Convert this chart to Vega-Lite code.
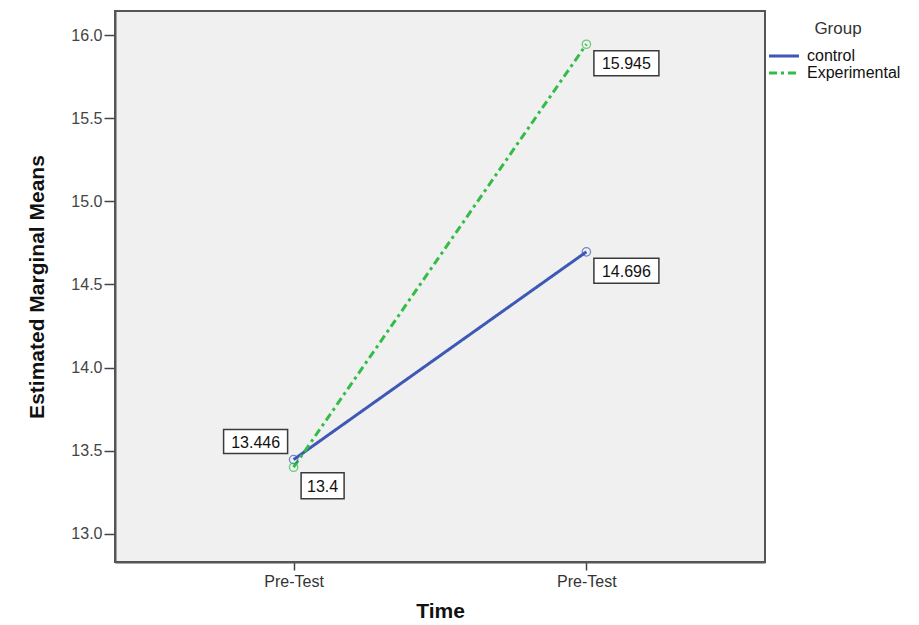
{
  "$schema": "https://vega.github.io/schema/vega-lite/v6.json",
  "width": 650,
  "height": 551,
  "autosize": {"type": "none"},
  "padding": {"left": 115, "top": 11, "right": 154, "bottom": 63},
  "background": "white",
  "data": {
    "values": [
      {"time": "1", "group": "control", "mean": 13.446},
      {"time": "1", "group": "Experimental", "mean": 13.4},
      {"time": "2", "group": "control", "mean": 14.696},
      {"time": "2", "group": "Experimental", "mean": 15.945}
    ]
  },
  "config": {
    "font": "Liberation Sans",
    "view": {"fill": "#f0f0f0", "stroke": "#555555", "strokeWidth": 2},
    "axis": {
      "domainColor": "#555555",
      "domainWidth": 2,
      "tickColor": "#444444",
      "tickWidth": 1.5,
      "labelColor": "#444444",
      "labelFontSize": 16,
      "titleColor": "#111111",
      "titleFontWeight": "bold",
      "grid": false
    }
  },
  "encoding": {
    "x": {
      "field": "time",
      "type": "ordinal",
      "scale": {"type": "point", "padding": 0.61},
      "axis": {
        "title": "Time",
        "labelExpr": "'Pre-Test'",
        "labelAngle": 0,
        "tickSize": 8,
        "labelPadding": 3,
        "labelColor": "#333333",
        "titleFontSize": 21,
        "titlePadding": 11
      }
    },
    "y": {
      "field": "mean",
      "type": "quantitative",
      "scale": {"domain": [12.83, 16.145], "nice": false, "zero": false},
      "axis": {
        "title": "Estimated Marginal Means",
        "values": [13, 13.5, 14, 14.5, 15, 15.5, 16],
        "format": ".1f",
        "tickSize": 11,
        "labelPadding": 2,
        "titleFontSize": 21,
        "titlePadding": 23
      }
    }
  },
  "layer": [
    {
      "mark": {"type": "line", "strokeWidth": 3},
      "encoding": {
        "color": {
          "field": "group",
          "type": "nominal",
          "scale": {"domain": ["control", "Experimental"], "range": ["#3e58b6", "#33bd46"]},
          "legend": {
            "title": "Group",
            "orient": "none",
            "legendX": 660,
            "legendY": 10,
            "titleAnchor": "middle",
            "titleFontSize": 17,
            "titleFontWeight": "normal",
            "titleColor": "#333333",
            "titlePadding": 9,
            "labelFontSize": 16,
            "labelColor": "#111111",
            "labelOffset": 14,
            "symbolType": "M-2,0H2",
            "symbolSize": 225,
            "symbolStrokeWidth": 3,
            "rowPadding": -1
          }
        },
        "strokeDash": {
          "field": "group",
          "type": "nominal",
          "scale": {"domain": ["control", "Experimental"], "range": [[1, 0], [8, 4, 3, 4]]},
          "legend": null
        }
      }
    },
    {
      "mark": {"type": "point", "shape": "circle", "filled": false, "size": 70, "strokeWidth": 1.3},
      "encoding": {
        "color": {"field": "group", "type": "nominal", "legend": null}
      }
    },
    {
      "transform": [{"filter": "datum.time == '1' && datum.group == 'control'"}],
      "mark": {"type": "point", "shape": "M-2.667,-1H2.667V1H-2.667Z", "size": 576, "filled": true, "fill": "white", "opacity": 1, "stroke": "#3a3a3a", "strokeWidth": 1.5, "xOffset": -38, "yOffset": -18}
    },
    {
      "transform": [{"filter": "datum.time == '1' && datum.group == 'control'"}],
      "mark": {"type": "text", "fontSize": 16, "color": "#111111", "align": "center", "baseline": "middle", "dx": -38, "dy": -17},
      "encoding": {"text": {"field": "mean", "type": "quantitative", "format": ".5~r"}}
    },
    {
      "transform": [{"filter": "datum.time == '1' && datum.group == 'Experimental'"}],
      "mark": {"type": "point", "shape": "M-1.654,-1H1.654V1H-1.654Z", "size": 676, "filled": true, "fill": "white", "opacity": 1, "stroke": "#3a3a3a", "strokeWidth": 1.5, "xOffset": 29, "yOffset": 18.5}
    },
    {
      "transform": [{"filter": "datum.time == '1' && datum.group == 'Experimental'"}],
      "mark": {"type": "text", "fontSize": 16, "color": "#111111", "align": "center", "baseline": "middle", "dx": 29, "dy": 19.5},
      "encoding": {"text": {"field": "mean", "type": "quantitative", "format": ".5~r"}}
    },
    {
      "transform": [{"filter": "datum.time == '2'"}],
      "mark": {"type": "point", "shape": "M-2.6,-1H2.6V1H-2.6Z", "size": 625, "filled": true, "fill": "white", "opacity": 1, "stroke": "#3a3a3a", "strokeWidth": 1.5, "xOffset": 40, "yOffset": 19}
    },
    {
      "transform": [{"filter": "datum.time == '2'"}],
      "mark": {"type": "text", "fontSize": 16, "color": "#111111", "align": "center", "baseline": "middle", "dx": 40, "dy": 20},
      "encoding": {"text": {"field": "mean", "type": "quantitative", "format": ".5~r"}}
    }
  ]
}
